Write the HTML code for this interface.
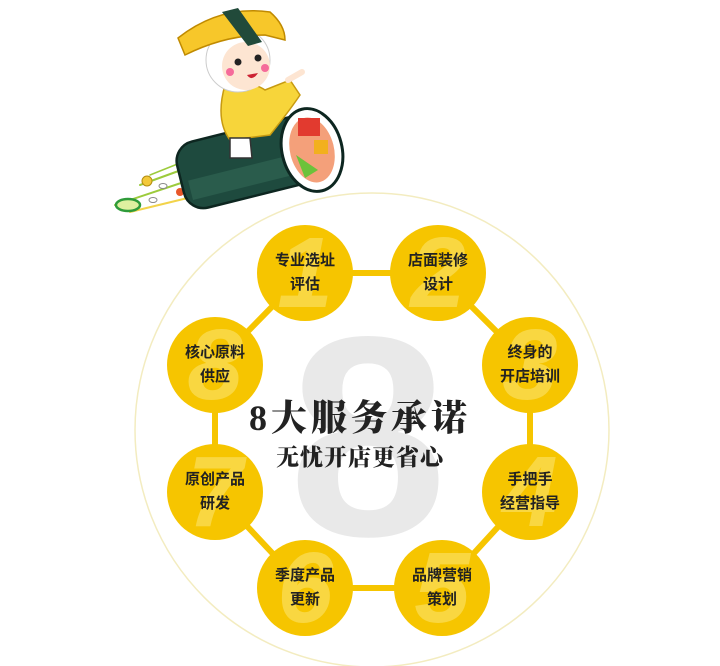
<!DOCTYPE html>
<html><head><meta charset="utf-8"><style>
html,body{margin:0;padding:0;background:#fff;}
body{width:720px;height:666px;position:relative;overflow:hidden;font-family:"Liberation Sans","Noto Sans CJK SC",sans-serif;}
.n{position:absolute;width:96px;height:96px;border-radius:50%;background:#f6c500;display:flex;align-items:center;justify-content:center;text-align:center;font-weight:bold;font-size:15px;line-height:24px;color:#222;overflow:hidden;}
.n span{position:relative;z-index:2}
.n b{position:absolute;font-family:"Liberation Sans",sans-serif;font-size:100px;font-weight:900;color:#f9d741;z-index:1;line-height:96px;left:0;right:0;text-align:center;font-style:italic}
.t{position:absolute;left:0;width:720px;text-align:center;font-family:"Liberation Serif","Noto Serif CJK SC",serif;font-weight:900;color:#222;}
</style></head><body>
<svg width="720" height="666" style="position:absolute;left:0;top:0">
<circle cx="372" cy="430" r="237" fill="#fff" stroke="#f3ecc0" stroke-width="1.5"/>
<g stroke="#f6c500" stroke-width="6" fill="none">
<polygon points="305,273 438,273 530,365 530,492 442,588 305,588 215,492 215,365"/>
</g>
<text x="368" y="535" text-anchor="middle" font-family="Liberation Sans" font-weight="bold" font-size="285" fill="#e9e9e9">8</text>
<g stroke-linecap="round">
<line x1="115" y1="205" x2="190" y2="180" stroke="#9ccb3c" stroke-width="2"/>
<line x1="140" y1="185" x2="195" y2="165" stroke="#9ccb3c" stroke-width="2"/>
<line x1="130" y1="212" x2="200" y2="195" stroke="#f2d34a" stroke-width="2"/>
<line x1="150" y1="175" x2="200" y2="155" stroke="#9ccb3c" stroke-width="1.5"/>
</g>
<ellipse cx="128" cy="205" rx="12" ry="6" fill="#dff0a0" stroke="#2f9b3a" stroke-width="2.5"/>
<circle cx="147" cy="181" r="5" fill="#f3c93a" stroke="#b38c10"/>
<circle cx="180" cy="192" r="4" fill="#e8572a"/>
<ellipse cx="163" cy="186" rx="4" ry="2.5" fill="#fff" stroke="#888"/>
<ellipse cx="153" cy="200" rx="4" ry="2.5" fill="#fff" stroke="#888"/>
<g transform="rotate(-14 250 160)">
<rect x="178" y="128" width="140" height="68" rx="20" fill="#1e4a3e" stroke="#0d2620" stroke-width="2.5"/>
<rect x="185" y="165" width="125" height="20" fill="#2a5c4c"/>
</g>
<ellipse cx="312" cy="150" rx="30" ry="42" transform="rotate(-14 312 150)" fill="#fff" stroke="#0d2620" stroke-width="3"/>
<ellipse cx="312" cy="150" rx="22" ry="33" transform="rotate(-14 312 150)" fill="#f4a07a"/>
<rect x="298" y="118" width="22" height="18" fill="#e23a2f"/>
<rect x="314" y="140" width="14" height="14" fill="#f2b01e"/>
<path d="M296 155 L318 170 L305 178 Z" fill="#6cc23a"/>
<path d="M225 85 Q215 120 230 140 L270 135 Q290 110 300 95 L290 80 L265 90 Q250 80 225 85Z" fill="#f7d53a" stroke="#c79a10" stroke-width="1.5"/>
<path d="M230 138 L250 138 L252 158 L230 158Z" fill="#fff" stroke="#333" stroke-width="1.5"/>
<circle cx="238" cy="60" r="32" fill="#fff" stroke="#ccc"/>
<ellipse cx="246" cy="66" rx="24" ry="24" fill="#fde5d2"/>
<circle cx="238" cy="62" r="3.5" fill="#222"/><circle cx="258" cy="58" r="3.5" fill="#222"/>
<circle cx="230" cy="72" r="4" fill="#f56b9a"/><circle cx="265" cy="68" r="4" fill="#f56b9a"/>
<path d="M247 75 Q252 82 258 73" fill="#c23" />
<path d="M178 38 Q220 5 270 12 Q285 25 285 40 L265 35 Q225 35 185 55 Z" fill="#f7c72a" stroke="#c08a00" stroke-width="1.5"/>
<path d="M222 12 L238 8 L262 42 L248 46Z" fill="#214a3a"/>
<path d="M288 80 L302 72" stroke="#fde5d2" stroke-width="6" stroke-linecap="round"/>
</svg>
<div class="n" style="left:257px;top:225px"><b>1</b><span>专业选址<br>评估</span></div>
<div class="n" style="left:390px;top:225px"><b>2</b><span>店面装修<br>设计</span></div>
<div class="n" style="left:482px;top:317px"><b>3</b><span>终身的<br>开店培训</span></div>
<div class="n" style="left:482px;top:444px"><b>4</b><span>手把手<br>经营指导</span></div>
<div class="n" style="left:394px;top:540px"><b>5</b><span>品牌营销<br>策划</span></div>
<div class="n" style="left:257px;top:540px"><b>6</b><span>季度产品<br>更新</span></div>
<div class="n" style="left:167px;top:444px"><b>7</b><span>原创产品<br>研发</span></div>
<div class="n" style="left:167px;top:317px"><b>8</b><span>核心原料<br>供应</span></div>
<div class="t" style="top:396px;font-size:36px;line-height:44px;left:0;letter-spacing:4px">8大服务承诺</div>
<div class="t" style="top:443px;font-size:23px;line-height:30px;left:0;letter-spacing:1px">无忧开店更省心</div>
</body></html>
